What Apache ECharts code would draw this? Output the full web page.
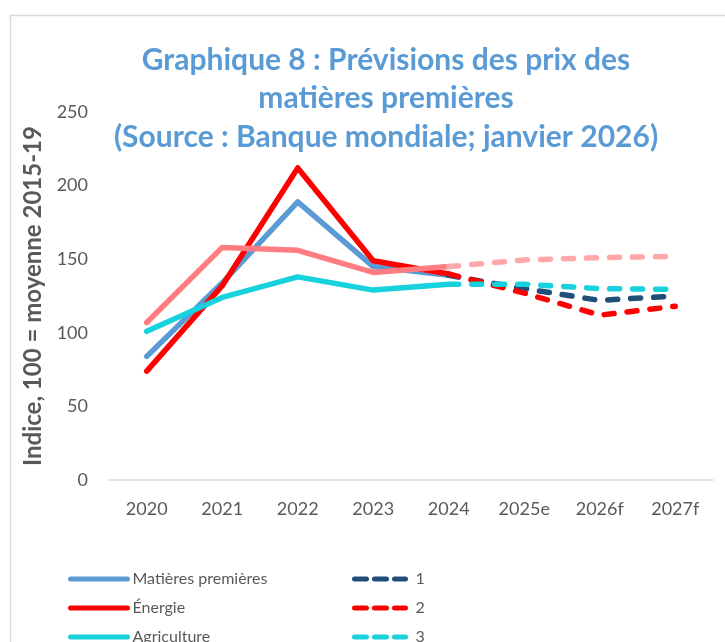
<!DOCTYPE html>
<html lang="fr">
<head>
<meta charset="UTF-8">
<title>Graphique 8</title>
<script src="https://cdn.jsdelivr.net/npm/echarts@6/dist/echarts.min.js"></script>
<style>
    html, body { margin: 0; padding: 0; background: #fff; }
</style>
</head>
<body>
<div id="chart" style="width: 725px;height: 642px;"></div>
<script>
    var years = ['2020', '2021', '2022', '2023', '2024', '2025e', '2026f', '2027f'];
    var yTicks = [0, 50, 100, 150, 200, 250];

    // séries historiques (2020-2024)
    var matieres = [84, 134, 189, 145, 139, null, null, null];
    var energie = [74, 132, 212, 149, 140, null, null, null];
    var agriculture = [101, 124, 138, 129, 133, null, null, null];
    var rose = [107, 158, 156, 141, 145, null, null, null];

    // prévisions (2024-2027f)
    var prev1 = [null, null, null, null, 139, 130, 122, 125];
    var prev2 = [null, null, null, null, 140, 127, 112, 118];
    var prev3 = [null, null, null, null, 133, 133, 130, 129.5];
    var prevRose = [null, null, null, null, 145, 149.5, 151, 152];

    var txt = '#595959';
    var font = 'Lato';

    function solid(name, data, color) {
        return {
            name: name, type: 'line', data: data, symbol: 'none',
            lineStyle: { color: color, width: 5.5, cap: 'round', join: 'round' },
            itemStyle: { color: color }
        };
    }
    function dashed(name, data, color) {
        return {
            name: name, type: 'line', data: data, symbol: 'none',
            lineStyle: { color: color, width: 5.5, type: [10, 13], cap: 'round', join: 'round' },
            itemStyle: { color: color }
        };
    }
    // entrée de légende en pointillés
    function dashItem(name) {
        return { name: name, lineStyle: { type: [12, 8], width: 5, cap: 'round' } };
    }

    var myChart = echarts.init(document.getElementById('chart'));
    var option = {
        backgroundColor: '#fff',
        animation: false,
        textStyle: { fontFamily: font },
        title: {
            text: 'Graphique 8 : Prévisions des prix des\nmatières premières\n(Source : Banque mondiale; janvier 2026)',
            left: 381,
            textAlign: 'center',
            top: 36,
            textStyle: {
                color: '#5B9BD5',
                fontFamily: font,
                fontWeight: 'bold',
                fontSize: 30,
                lineHeight: 38.5
            }
        },
        graphic: [{
            type: 'rect',
            shape: { x: 10.5, y: 15.5, width: 760, height: 700 },
            style: { fill: 'none', stroke: '#D9D9D9', lineWidth: 1.5 },
            silent: true
        }],
        grid: { left: 109, right: 12, top: 112, bottom: 162 },
        legend: [{
            orient: 'vertical',
            left: 63,
            top: 566,
            height: 150,
            itemWidth: 57,
            itemHeight: 14,
            itemGap: 13,
            itemStyle: { color: 'rgba(0,0,0,0)', borderWidth: 0 },
            lineStyle: { width: 5, cap: 'round' },
            textStyle: { color: txt, fontSize: 16, fontFamily: font },
            data: ['Matières premières', 'Énergie', 'Agriculture']
        }, {
            orient: 'vertical',
            left: 347,
            top: 566,
            height: 150,
            itemWidth: 51,
            itemHeight: 14,
            itemGap: 13,
            itemStyle: { color: 'rgba(0,0,0,0)', borderWidth: 0 },
            textStyle: { color: txt, fontSize: 16, fontFamily: font, padding: [0, 0, 0, 5] },
            data: [dashItem('1'), dashItem('2'), dashItem('3')]
        }],
        xAxis: {
            type: 'category',
            data: years,
            axisLine: { show: true, lineStyle: { color: '#D9D9D9', width: 1.5 } },
            axisTick: { show: false },
            axisLabel: { color: txt, fontSize: 18, fontFamily: font, margin: 20 }
        },
        yAxis: {
            type: 'value',
            min: yTicks[0],
            max: yTicks[yTicks.length - 1],
            interval: 50,
            name: 'Indice, 100 = moyenne 2015-19',
            nameLocation: 'middle',
            nameGap: 64,
            nameTextStyle: { color: txt, fontSize: 24, fontWeight: 'bold', fontFamily: font },
            axisLine: { show: false },
            axisTick: { show: false },
            splitLine: { show: false },
            axisLabel: { color: txt, fontSize: 18, fontFamily: font, margin: 21 }
        },
        series: [
            solid('Matières premières', matieres, '#5B9BD5'),
            solid('Énergie', energie, '#FF0000'),
            solid('Agriculture', agriculture, '#17D2DC'),
            solid('Série 4', rose, '#FF7C80'),
            dashed('1', prev1, '#1F4E79'),
            dashed('2', prev2, '#FF0000'),
            dashed('3', prev3, '#17D2DC'),
            dashed('Série 8', prevRose, '#FFA7A9')
        ]
    };
    myChart.setOption(option);
</script>
</body>
</html>
